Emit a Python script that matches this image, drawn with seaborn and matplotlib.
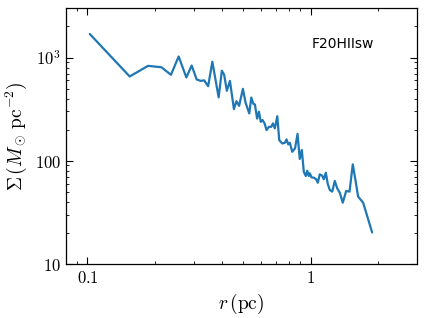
import seaborn as sns
import matplotlib.pyplot as plt
import pandas as pd

sns.set_style("ticks")
plt.rcParams["mathtext.fontset"] = "cm"
plt.rcParams["font.family"] = ["DejaVu Sans"]
plt.rcParams["axes.edgecolor"] = "black"
plt.rcParams["xtick.color"] = "black"
plt.rcParams["ytick.color"] = "black"
plt.rcParams["text.color"] = "black"
plt.rcParams["axes.labelcolor"] = "black"

# surface density profile
radius_pc = [
    0.1024, 0.1546, 0.1868, 0.2145, 0.2367, 0.2563, 0.2775, 0.2932, 0.3087, 0.3217,
    0.3335, 0.3475, 0.3629, 0.3873, 0.4003, 0.4099, 0.4215, 0.4352, 0.4535, 0.4653,
    0.4784, 0.4975, 0.5116, 0.5314, 0.5425, 0.5539, 0.5632, 0.5761, 0.5869, 0.5984,
    0.6095, 0.6223, 0.6353, 0.6506, 0.6668, 0.6780, 0.6920, 0.7095, 0.7242, 0.7469,
    0.7673, 0.7809, 0.7947, 0.8081, 0.8281, 0.8524, 0.8746, 0.8948, 0.9142, 0.9333,
    0.9527, 0.9665, 0.9826, 0.9929, 1.0104, 1.035, 1.060, 1.078, 1.100, 1.128,
    1.147, 1.171, 1.195, 1.220, 1.251, 1.285, 1.317, 1.353, 1.395, 1.445,
    1.496, 1.547, 1.590, 1.635, 1.722, 1.889,
]
sigma = [
    1690, 655, 830, 805, 680, 1023, 641, 837, 613, 594,
    601, 527, 910, 411, 745, 682, 476, 594, 316, 378,
    340, 497, 364, 287, 410, 356, 351, 256, 299, 238,
    248, 230, 198, 213, 213, 230, 206, 270, 158, 147,
    149, 161, 144, 149, 122, 132, 182, 104, 127, 77.8,
    71.1, 80.0, 71.1, 75.5, 69.0, 68.5, 66.1, 61.2, 73.8, 71.6,
    66.1, 76.6, 59.6, 52.1, 50.2, 63.7, 54.1, 49.0, 39.2, 50.9,
    50.2, 92.2, 65.0, 44.9, 39.2, 20.2,
]
label = "F20HIIsw"

profile = pd.DataFrame({"r": radius_pc, "sigma": sigma})

fig = plt.figure(figsize=(4.25, 3.18), dpi=100)
ax = fig.add_axes([0.155, 0.170, 0.826, 0.804])
sns.lineplot(data=profile, x="r", y="sigma", ax=ax, color="#1f77b4",
             linewidth=1.6, sort=False)

ax.set_xscale("log")
ax.set_yscale("log")
ax.set_xlim(0.08, 3.0)
ax.set_ylim(10, 3000)
ax.set_xticks([0.1, 1])
ax.set_xticklabels([r"$0.1$", r"$1$"])
ax.set_yticks([10, 100, 1000])
ax.set_yticklabels([r"$10$", r"$100$", r"$10^3$"])
ax.tick_params(which="both", direction="in", top=True, right=True, labelsize=12)
ax.tick_params(which="major", length=5, width=0.8)
ax.tick_params(which="minor", length=2.5, width=0.6)
for spine in ax.spines.values():
    spine.set_linewidth(0.9)

ax.set_xlabel(r"$r\,(\mathrm{pc})$", fontsize=14)
ax.set_ylabel(r"$\Sigma\,(M_\odot\,\mathrm{pc}^{-2})$", fontsize=14)
ax.text(0.79, 0.86, label, transform=ax.transAxes, ha="center", va="center",
        fontsize=10)

fig.savefig("out.png", dpi=100)
